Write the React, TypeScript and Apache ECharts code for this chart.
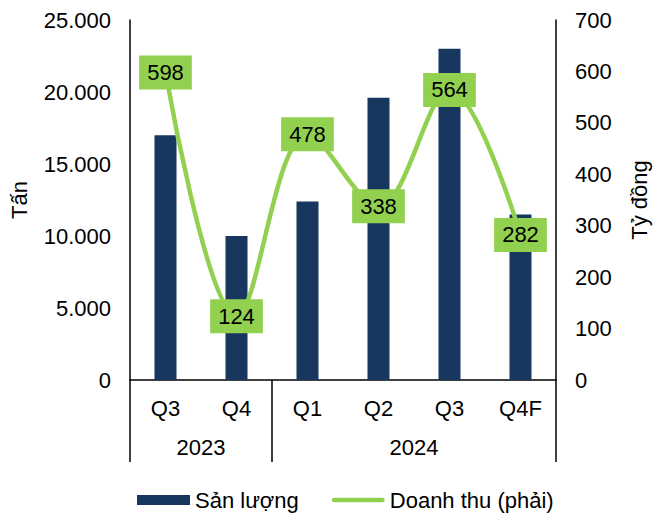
import React, { useEffect, useRef } from "react";
import * as echarts from "echarts";

const quarters = ["Q3", "Q4", "Q1", "Q2", "Q3", "Q4F"];
const yearSlots = ["", "", "2023", "", "", "", "", "", "2024", "", "", "", ""];
const yearBoundaryIdx = [0, 4, 12];
const volume = [17000, 10000, 12400, 19600, 23000, 11500];
const revenue = [598, 124, 478, 338, 564, 282];
const leftTicks = { min: 0, max: 25000, interval: 5000 };
const rightTicks = { min: 0, max: 700, interval: 100 };

const FONT = "Liberation Sans, Arial, sans-serif";
const FS = 22;

export default function App() {
  const ref = useRef<HTMLDivElement>(null);
  useEffect(() => {
    const chart = echarts.init(ref.current!, undefined, { renderer: "svg" });
    chart.setOption({
      animation: false,
      textStyle: { fontFamily: FONT },
      grid: { left: 128, right: 90, top: 20, bottom: 133 },
      legend: {
        left: 132,
        top: 484,
        itemWidth: 53,
        itemHeight: 10,
        itemGap: 33,
        itemTextGap: 4,
        textStyle: { fontSize: FS, color: "#000", fontFamily: FONT },
        data: [
          { name: "Sản lượng", icon: "rect" },
          {
            name: "Doanh thu (phải)",
            icon: "path://M2.5,0 H53.5 A2.5,2.5 0 0 1 53.5,5 H2.5 A2.5,2.5 0 0 1 2.5,0 Z",
          },
        ],
      },
      xAxis: [
        {
          type: "category",
          data: quarters,
          axisLine: { lineStyle: { color: "#000", width: 1.5 } },
          axisTick: { show: false },
          axisLabel: { fontSize: FS, color: "#000", margin: 17, fontFamily: FONT },
        },
        {
          type: "category",
          data: yearSlots,
          boundaryGap: false,
          position: "bottom",
          axisLine: { show: false },
          axisTick: {
            show: true,
            length: 82,
            lineStyle: { color: "#000", width: 1.5 },
            interval: (i: number) => yearBoundaryIdx.includes(i),
          },
          axisLabel: {
            interval: 0,
            fontSize: FS,
            color: "#000",
            margin: 56,
            fontFamily: FONT,
          },
        },
      ],
      yAxis: [
        {
          type: "value",
          ...leftTicks,
          name: "Tấn",
          nameLocation: "middle",
          nameRotate: 90,
          nameGap: 100,
          nameTextStyle: { fontSize: FS, color: "#000", fontFamily: FONT },
          axisLine: { show: true, lineStyle: { color: "#000", width: 1.5 } },
          axisTick: { show: false },
          splitLine: { show: false },
          axisLabel: {
            fontSize: FS,
            color: "#000",
            margin: 19,
            fontFamily: FONT,
            formatter: (v: number) => (v === 0 ? "0" : v.toLocaleString("de-DE")),
          },
        },
        {
          type: "value",
          ...rightTicks,
          position: "right",
          name: "Tỷ đồng",
          nameLocation: "middle",
          nameRotate: 90,
          nameGap: 72,
          nameTextStyle: { fontSize: FS, color: "#000", fontFamily: FONT },
          axisLine: { show: true, lineStyle: { color: "#000", width: 1.5 } },
          axisTick: { show: false },
          splitLine: { show: false },
          axisLabel: { fontSize: FS, color: "#000", margin: 19, fontFamily: FONT },
        },
      ],
      series: [
        {
          name: "Sản lượng",
          type: "bar",
          data: volume,
          barWidth: "31%",
          itemStyle: { color: "#17375E" },
        },
        {
          name: "Doanh thu (phải)",
          type: "line",
          yAxisIndex: 1,
          data: revenue,
          smooth: 0.35,
          symbol: "circle",
          symbolSize: 0,
          lineStyle: { color: "#92D050", width: 4.5 },
          itemStyle: { color: "#92D050" },
          label: {
            show: true,
            position: "inside",
            color: "#000",
            fontSize: FS,
            fontFamily: FONT,
            backgroundColor: "#92D050",
            lineHeight: 22,
            padding: [6, 8],
          },
          z: 5,
        },
      ],
    });
    return () => chart.dispose();
  }, []);
  return <div ref={ref} style={{ width: 658, height: 513, position: "absolute", left: 0, top: 0 }} />;
}
